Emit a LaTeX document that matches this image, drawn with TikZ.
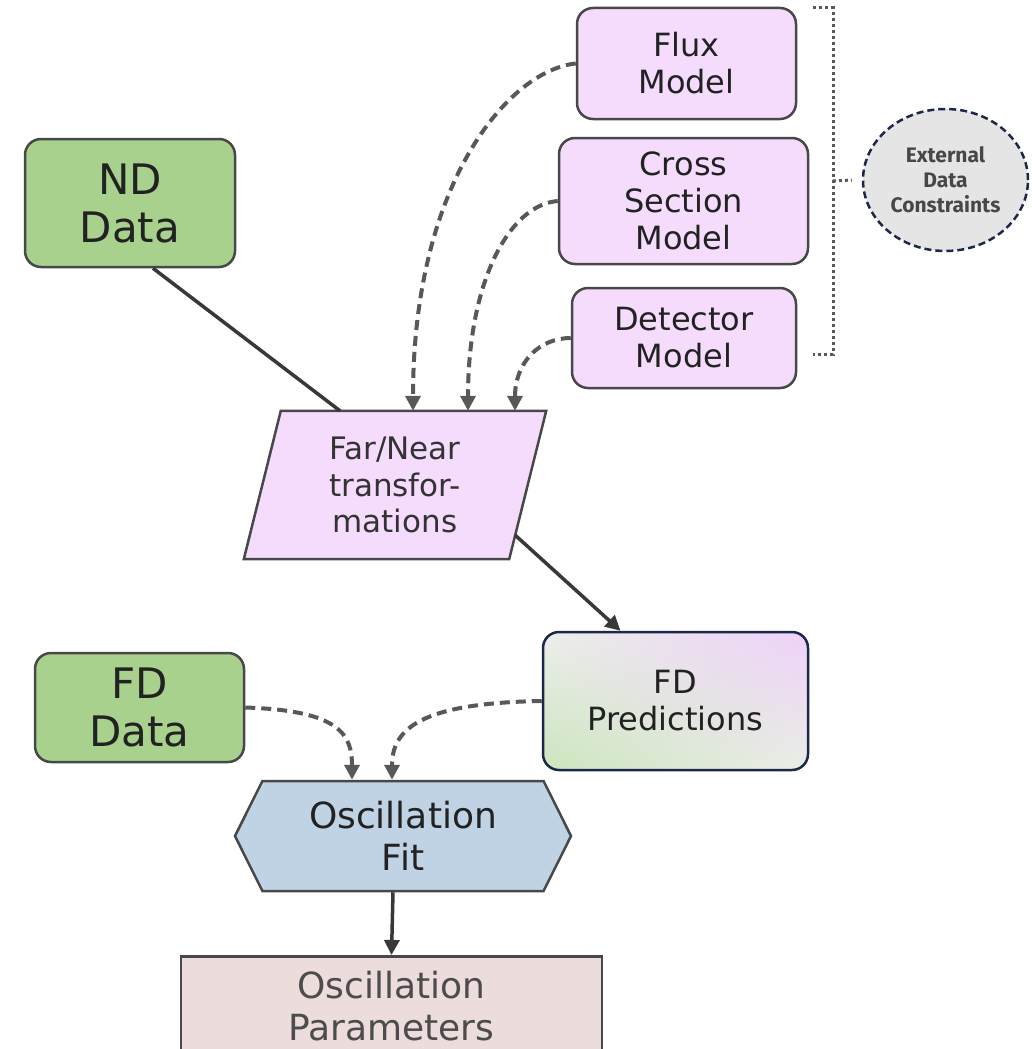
\documentclass[tikz,border=0pt]{standalone}
\usepackage{fontspec}
\setmainfont{DejaVu Sans}
\newfontfamily\extfont{Fira Sans}
\usetikzlibrary{positioning,arrows.meta,calc,shapes.geometric,shapes.symbols,shadings,backgrounds}
\definecolor{pinkfill}{RGB}{245,220,253}
\definecolor{greenfill}{RGB}{169,209,142}
\definecolor{bluefill}{RGB}{192,211,228}
\definecolor{rosefill}{RGB}{236,220,220}
\definecolor{edgegray}{RGB}{72,72,72}
\definecolor{linegray}{RGB}{88,88,88}
\definecolor{navy}{RGB}{28,40,72}
\definecolor{textdark}{RGB}{34,34,34}
\definecolor{predul}{RGB}{236,238,234}
\definecolor{predur}{RGB}{238,208,250}
\definecolor{predll}{RGB}{204,229,190}
\definecolor{predlr}{RGB}{234,238,230}

\begin{document}
\begin{tikzpicture}[x=1pt,y=-1pt]
\tikzset{box/.style={draw=edgegray,line width=2.5pt,rounded corners=16pt,align=center,inner sep=0pt,text=textdark},
  model/.style={box,fill=pinkfill,font=\fontsize{32}{37}\selectfont},
  datbox/.style={box,fill=greenfill,font=\fontsize{42}{48}\selectfont},
  tip/.style={-{Triangle[length=15pt,width=15pt]}},
  dashline/.style={linegray,line width=4pt,dash pattern=on 10pt off 6pt,tip},
  solidline/.style={black!78,line width=3.5pt},
  dotline/.style={black!65,line width=3pt,dash pattern=on 3pt off 3pt}}
\path[use as bounding box,clip] (0,0) rectangle (1031,1049);

% model inputs
\node[model,minimum width=219,minimum height=111] (flux) at (686.5,63.5) {Flux\\Model};
\node[model,minimum width=249,minimum height=126] (xsec) at (683.5,201) {Cross\\Section\\Model};
\node[model,minimum width=224,minimum height=100] (det) at (684,338) {Detector\\Model};
\node[ellipse,draw=navy,line width=2.5pt,dash pattern=on 7pt off 4pt,fill=black!10,minimum width=165,minimum height=142,inner sep=0pt,align=center,text=black!72,font=\extfont\bfseries\fontsize{21}{25}\selectfont] (ext) at (945.5,180) {External\\Data\\Constraints};
\draw[dotline] (813,8) -- (833,8) -- (833,354) -- (813,354);
\coordinate (brk) at (833,181);
\draw[dotline] (brk) -- ([xshift=-10pt]ext.west);

% data and transformation
\node[datbox,minimum width=210,minimum height=128] (nd) at (130,203) {ND\\Data};
\node[minimum width=265,minimum height=148,inner sep=0pt,align=center,text=black!80,font=\fontsize{31}{36.5}\selectfont] (fn) at (395,485) {Far/Near\\transfor-\\mations};
\begin{scope}[on background layer]
\draw[edgegray,line width=2.5pt,fill=pinkfill] ([xshift=18.5pt]fn.north west) -- ([xshift=18.5pt]fn.north east) -- ([xshift=-18.5pt]fn.south east) -- ([xshift=-18.5pt]fn.south west) -- cycle;
\end{scope}

\node[box,draw=navy,minimum width=265,minimum height=138,upper left=predul,upper right=predur,lower left=predll,lower right=predlr,font=\fontsize{32}{37}\selectfont] (pred) at (675.5,701) {FD\\Predictions};
\node[datbox,minimum width=209,minimum height=109] (fdd) at (139.5,707.5) {FD\\Data};
\node[signal,signal to=west and east,signal pointer angle=127,draw=edgegray,line width=2.5pt,fill=bluefill,minimum width=336,minimum height=110,inner sep=0pt,align=center,text=textdark,font=\fontsize{36}{42}\selectfont] (fit) at (403,836) {Oscillation\\Fit};
\node[draw=edgegray,line width=2.5pt,fill=rosefill,minimum width=421,minimum height=100,inner sep=0pt,align=center,text=black!70,font=\fontsize{36}{42}\selectfont,anchor=north] (par) at (391.5,955) {Oscillation\\Parameters};

% connectors
\draw[dashline] (flux.west) .. controls +(-67,7) and +(0,-228) .. ([xshift=18pt]fn.north);
\draw[dashline] (xsec.west) .. controls +(-49,4) and +(0,-128) .. ([xshift=73pt]fn.north);
\draw[dashline] (det.west) .. controls +(-32,0) and +(0,-48) .. ([xshift=120pt]fn.north);
\draw[solidline] ([xshift=23pt]nd.south) -- ([xshift=-55pt]fn.north);
\draw[solidline,tip] ([xshift=-12.5pt,yshift=24pt]fn.south east) -- ([xshift=-55pt]pred.north);
\draw[dashline] (fdd.east) .. controls +(95,3) and +(0,-45) .. ([xshift=-51pt]fit.north);
\draw[dashline] (pred.west) .. controls +(-123,2) and +(0,-50) .. ([xshift=-11pt]fit.north);
\draw[solidline,tip] ([xshift=-10pt]fit.south) -- (par.north);
\end{tikzpicture}
\end{document}
